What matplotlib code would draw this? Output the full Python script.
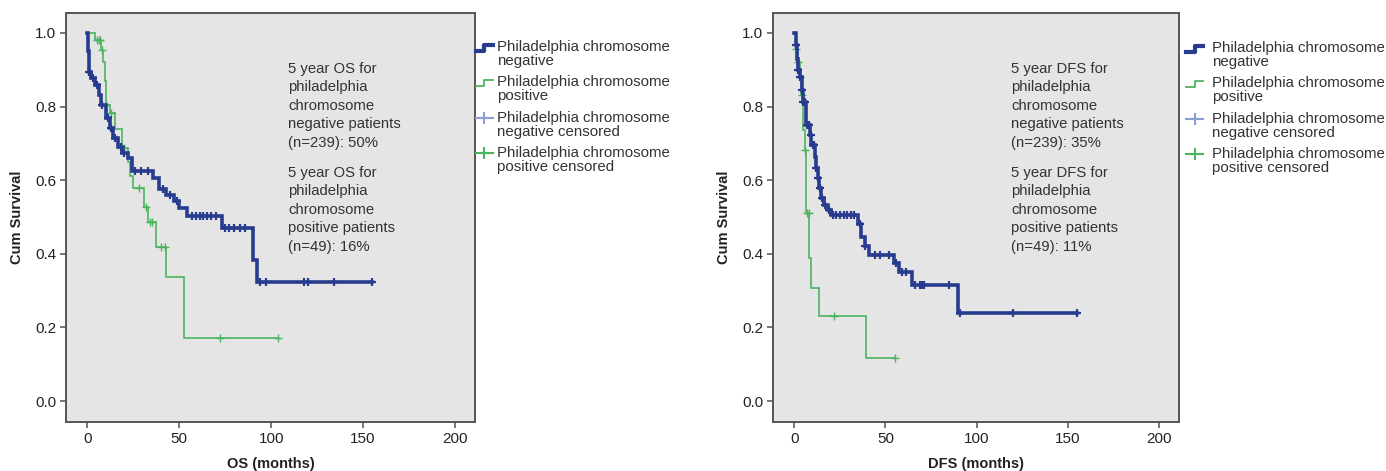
import numpy as np
import matplotlib
matplotlib.use("Agg")
import matplotlib.pyplot as plt
from matplotlib.lines import Line2D

plt.rcParams['font.family'] = ['Liberation Sans', 'DejaVu Sans']

# ==========================================
# Data
# ==========================================
# Overall survival, Philadelphia chromosome negative
os_neg_t = [0, 0.5, 1, 2, 4, 6.5, 7.5, 10, 12, 14, 16.5, 19, 22, 24, 35.5, 39, 43, 47, 50, 54, 73, 90, 92.5]
os_neg_s = [1.0, 0.95, 0.895, 0.877, 0.859, 0.832, 0.804, 0.768, 0.741, 0.714, 0.691, 0.673, 0.66, 0.625,
            0.605, 0.575, 0.56, 0.542, 0.524, 0.503, 0.47, 0.383, 0.324]
os_neg_end = 155
os_neg_cens = [1, 3, 5, 8, 11, 13, 15, 18, 20, 26, 29, 33, 41, 45, 49, 57, 59, 61, 63, 65, 67, 70,
               75, 77, 80, 83, 86, 94, 97, 118, 120, 134, 155]

# Overall survival, Philadelphia chromosome positive
os_pos_t = [0, 4, 7.5, 8.4, 9.3, 10, 12, 15, 19, 22, 23, 25, 30.5, 33, 37.5, 42.5, 52.5]
os_pos_s = [1.0, 0.98, 0.954, 0.922, 0.868, 0.804, 0.782, 0.74, 0.687, 0.65, 0.61, 0.578, 0.528, 0.487,
            0.419, 0.338, 0.17]
os_pos_end = 104
os_pos_cens = [5, 6, 7, 8, 10, 13, 20, 28, 32, 34, 35, 40, 42, 72, 104]

# Disease free survival, Philadelphia chromosome negative
dfs_neg_t = [0, 1, 1.5, 2, 3, 4, 5, 6.5, 8.4, 9.3, 11.1, 12, 13, 13.8, 14.7, 16.5, 18.4, 20, 34.7, 36.5,
             38.5, 41, 54.7, 57.5, 64.5, 90]
dfs_neg_s = [1.0, 0.967, 0.93, 0.9, 0.88, 0.845, 0.813, 0.75, 0.723, 0.696, 0.664, 0.632, 0.605, 0.578,
             0.551, 0.533, 0.519, 0.505, 0.48, 0.446, 0.42, 0.397, 0.374, 0.351, 0.315, 0.238]
dfs_neg_end = 155
dfs_neg_cens = [1, 2, 3, 4, 5, 6, 7, 8, 9, 10, 11, 12, 13, 14, 15, 17, 19, 21, 23, 25, 27, 29, 31, 33,
                36, 39, 44, 47, 52, 56, 59, 61, 66, 69, 70, 71, 85, 91, 120, 155]

# Disease free survival, Philadelphia chromosome positive
dfs_pos_t = [0, 1, 2, 3, 3.8, 4.7, 5.6, 6.5, 8.3, 9, 13.8, 39.3]
dfs_pos_s = [1.0, 0.955, 0.92, 0.88, 0.83, 0.736, 0.682, 0.51, 0.388, 0.306, 0.231, 0.116]
dfs_pos_end = 55
dfs_pos_cens = [1, 2, 3, 4, 6, 7, 8, 22, 55]

x_ticks = [0, 50, 100, 150, 200]
y_ticks = [0.0, 0.2, 0.4, 0.6, 0.8, 1.0]

legend_labels = ["Philadelphia chromosome\nnegative",
                 "Philadelphia chromosome\npositive",
                 "Philadelphia chromosome\nnegative censored",
                 "Philadelphia chromosome\npositive censored"]

os_note = ("5 year OS for\nphiladelphia\nchromosome\nnegative patients\n(n=239): 50%",
           "5 year OS for\nphiladelphia\nchromosome\npositive patients\n(n=49): 16%")
dfs_note = ("5 year DFS for\nphiladelphia\nchromosome\nnegative patients\n(n=239): 35%",
            "5 year DFS for\nphiladelphia\nchromosome\npositive patients\n(n=49): 11%")

# ==========================================
# Styles
# ==========================================
BLUE = '#283c8f'
GREEN = '#4cb45f'
LIGHT_BLUE = '#8b9fd6'
BG = '#e4e5e4'
FRAME = '#555555'
TXT = '#333333'

W, H = 1386, 471
fig = plt.figure(figsize=(W / 100, H / 100), dpi=100)


def px_axes(x0, x1, y0, y1):
    # pixel box (top-left origin) -> figure axes
    return fig.add_axes([x0 / W, (H - y1) / H, (x1 - x0) / W, (y1 - y0) / H])


def km(ax, t, s, end, cens, color, lw, mew):
    t = np.asarray(t, float)
    s = np.asarray(s, float)
    ax.step(np.r_[t, end], np.r_[s, s[-1]], where='post', color=color, lw=lw, solid_joinstyle='miter')
    c = np.asarray(cens, float)
    cy = s[np.searchsorted(t, c, side='right') - 1]
    ax.plot(c, cy, ls='none', marker='+', ms=6, mew=mew, color=color)


def draw_legend(x_handle, x_text, y_top):
    # manual legend in pixel coordinates
    dy = 35.3
    for i, lab in enumerate(legend_labels):
        yt = y_top + i * dy
        fig.text(x_text / W, 1 - yt / H, lab, fontsize=10.8, color=TXT, va='top', ha='left',
                 linespacing=1.0)
        yc = 1 - (yt + 7.5) / H
        x0, x1 = x_handle / W, (x_handle + 17) / W
        xm = (x0 + x1) / 2
        hh = 3 / H
        if i == 0:
            fig.add_artist(Line2D([x0, xm, xm, x1], [yc - hh, yc - hh, yc + hh, yc + hh],
                                  color=BLUE, lw=3, transform=fig.transFigure))
        elif i == 1:
            fig.add_artist(Line2D([x0, xm, xm, x1], [yc - hh, yc - hh, yc + hh, yc + hh],
                                  color=GREEN, lw=1.3, transform=fig.transFigure))
        else:
            col = LIGHT_BLUE if i == 2 else GREEN
            fig.add_artist(Line2D([x0, x1], [yc, yc], color=col, lw=1.5, transform=fig.transFigure))
            fig.add_artist(Line2D([xm], [yc], color=col, marker='+', ms=8, mew=1.5,
                                  transform=fig.transFigure))


def style_axes(ax, xlabel):
    ax.set_facecolor(BG)
    ax.set_xlim(-11.7, 211)
    ax.set_ylim(-0.057, 1.054)
    ax.set_xticks(x_ticks)
    ax.set_yticks(y_ticks)
    ax.set_yticklabels(['%.1f' % v for v in y_ticks])
    for sp in ax.spines.values():
        sp.set_color(FRAME)
        sp.set_linewidth(1.4)
    ax.tick_params(direction='out', length=4, width=1.4, color='#777777', pad=3,
                   labelsize=11, labelcolor='#222222')
    ax.set_xlabel(xlabel, fontsize=10.5, fontweight='bold', color='#222222', labelpad=8)
    ax.set_ylabel("Cum Survival", fontsize=10.5, fontweight='bold', color='#222222', labelpad=8)


# ==========================================
# OS panel
# ==========================================
ax1 = px_axes(66, 475, 13, 422)
style_axes(ax1, "OS (months)")
km(ax1, os_pos_t, os_pos_s, os_pos_end, os_pos_cens, GREEN, 1.2, 1.0)
km(ax1, os_neg_t, os_neg_s, os_neg_end, os_neg_cens, BLUE, 2.6, 1.6)
fig.text(288 / W, 1 - 62 / H, os_note[0], fontsize=10.7, color=TXT, va='top', linespacing=1.4)
fig.text(288 / W, 1 - 166 / H, os_note[1], fontsize=10.7, color=TXT, va='top', linespacing=1.4)
draw_legend(476, 497, 40)

# ==========================================
# DFS panel
# ==========================================
ax2 = px_axes(773, 1179, 13, 422)
style_axes(ax2, "DFS (months)")
km(ax2, dfs_pos_t, dfs_pos_s, dfs_pos_end, dfs_pos_cens, GREEN, 1.2, 1.0)
km(ax2, dfs_neg_t, dfs_neg_s, dfs_neg_end, dfs_neg_cens, BLUE, 2.6, 1.6)
fig.text(1011 / W, 1 - 62 / H, dfs_note[0], fontsize=10.7, color=TXT, va='top', linespacing=1.4)
fig.text(1011 / W, 1 - 166 / H, dfs_note[1], fontsize=10.7, color=TXT, va='top', linespacing=1.4)
draw_legend(1186, 1212, 41)

fig.savefig("out.png", dpi=100, facecolor='white')
